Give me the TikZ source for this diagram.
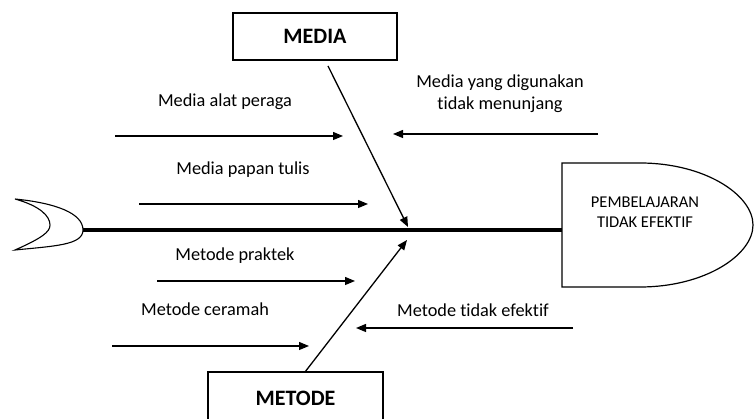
\documentclass[tikz,border=0pt]{standalone}
\usepackage{fontspec}
\setmainfont[RawFeature={-liga}]{Carlito}
\usetikzlibrary{arrows.meta}
\begin{document}
\begin{tikzpicture}[x=1pt,y=-1pt,
  lbl/.style={font=\fontsize{18.3}{22}\selectfont, inner sep=1pt, align=center},
  cat/.style={draw, line width=1.3pt, font=\fontsize{22}{24}\selectfont\bfseries, minimum width=164pt, minimum height=47pt, inner sep=0pt},
  bone/.style={line width=1.2pt, -{Triangle[length=10pt,width=8pt]}},
  diag/.style={line width=1.3pt, -{Triangle[length=10pt,width=8pt]}}]
\useasboundingbox (0,0) rectangle (756,419);
% boxes
\node[cat] (media) at (315,36.5) {MEDIA};
\node[cat, minimum width=175pt, minimum height=52pt] (metode) at (295.5,398) {METODE};
% head
\draw[line width=1.2pt] (562,163) -- (640,163) .. controls (705,163) and (753,195) .. (753,225)
  .. controls (753,255) and (705,287) .. (640,287) -- (562,287) -- cycle;
\node[font=\fontsize{16.5}{20}\selectfont, align=center] (head) at (645,212) {PEMBELAJARAN\\TIDAK EFEKTIF};
\coordinate (headw) at (562,230);
% tail
\draw[line width=1.1pt] (15,199) .. controls (55,203) and (83,213) .. (83,230)
  .. controls (83,245) and (55,246) .. (15,250)
  .. controls (42,238) and (50,232) .. (50,225)
  .. controls (50,216) and (40,206) .. (15,199) -- cycle;
\coordinate (tail) at (83,230);
% spine
\draw[line width=3.5pt] (tail) -- (headw);
% diagonals
\coordinate (m1) at (328,66);
\coordinate (m2) at (408,227);
\coordinate (t1) at (305,372);
\coordinate (t2) at (407,240);
\draw[diag] (m1) -- (m2);
\draw[diag] (t1) -- (t2);
% bones
\coordinate (a1) at (115,136); \coordinate (a2) at (343,136);
\coordinate (b1) at (139,204); \coordinate (b2) at (368,204);
\coordinate (c1) at (598,134); \coordinate (c2) at (393,134);
\coordinate (d1) at (157,281); \coordinate (d2) at (355,281);
\coordinate (e1) at (112,346); \coordinate (e2) at (309,346);
\coordinate (f1) at (573,328); \coordinate (f2) at (356,328);
\draw[bone] (a1) -- (a2);
\draw[bone] (b1) -- (b2);
\draw[bone] (c1) -- (c2);
\draw[bone] (d1) -- (d2);
\draw[bone] (e1) -- (e2);
\draw[bone] (f1) -- (f2);
% labels
\node[lbl] (la) at (225,102) {Media alat peraga};
\node[lbl] (lb) at (243,170) {Media papan tulis};
\node[lbl] (lc) at (500,94) {Media yang digunakan\\tidak menunjang};
\node[lbl] (ld) at (235,256) {Metode praktek};
\node[lbl] (le) at (205,309) {Metode ceramah};
\node[lbl] (lf) at (473,310) {Metode tidak efektif};
\end{tikzpicture}
\end{document}
